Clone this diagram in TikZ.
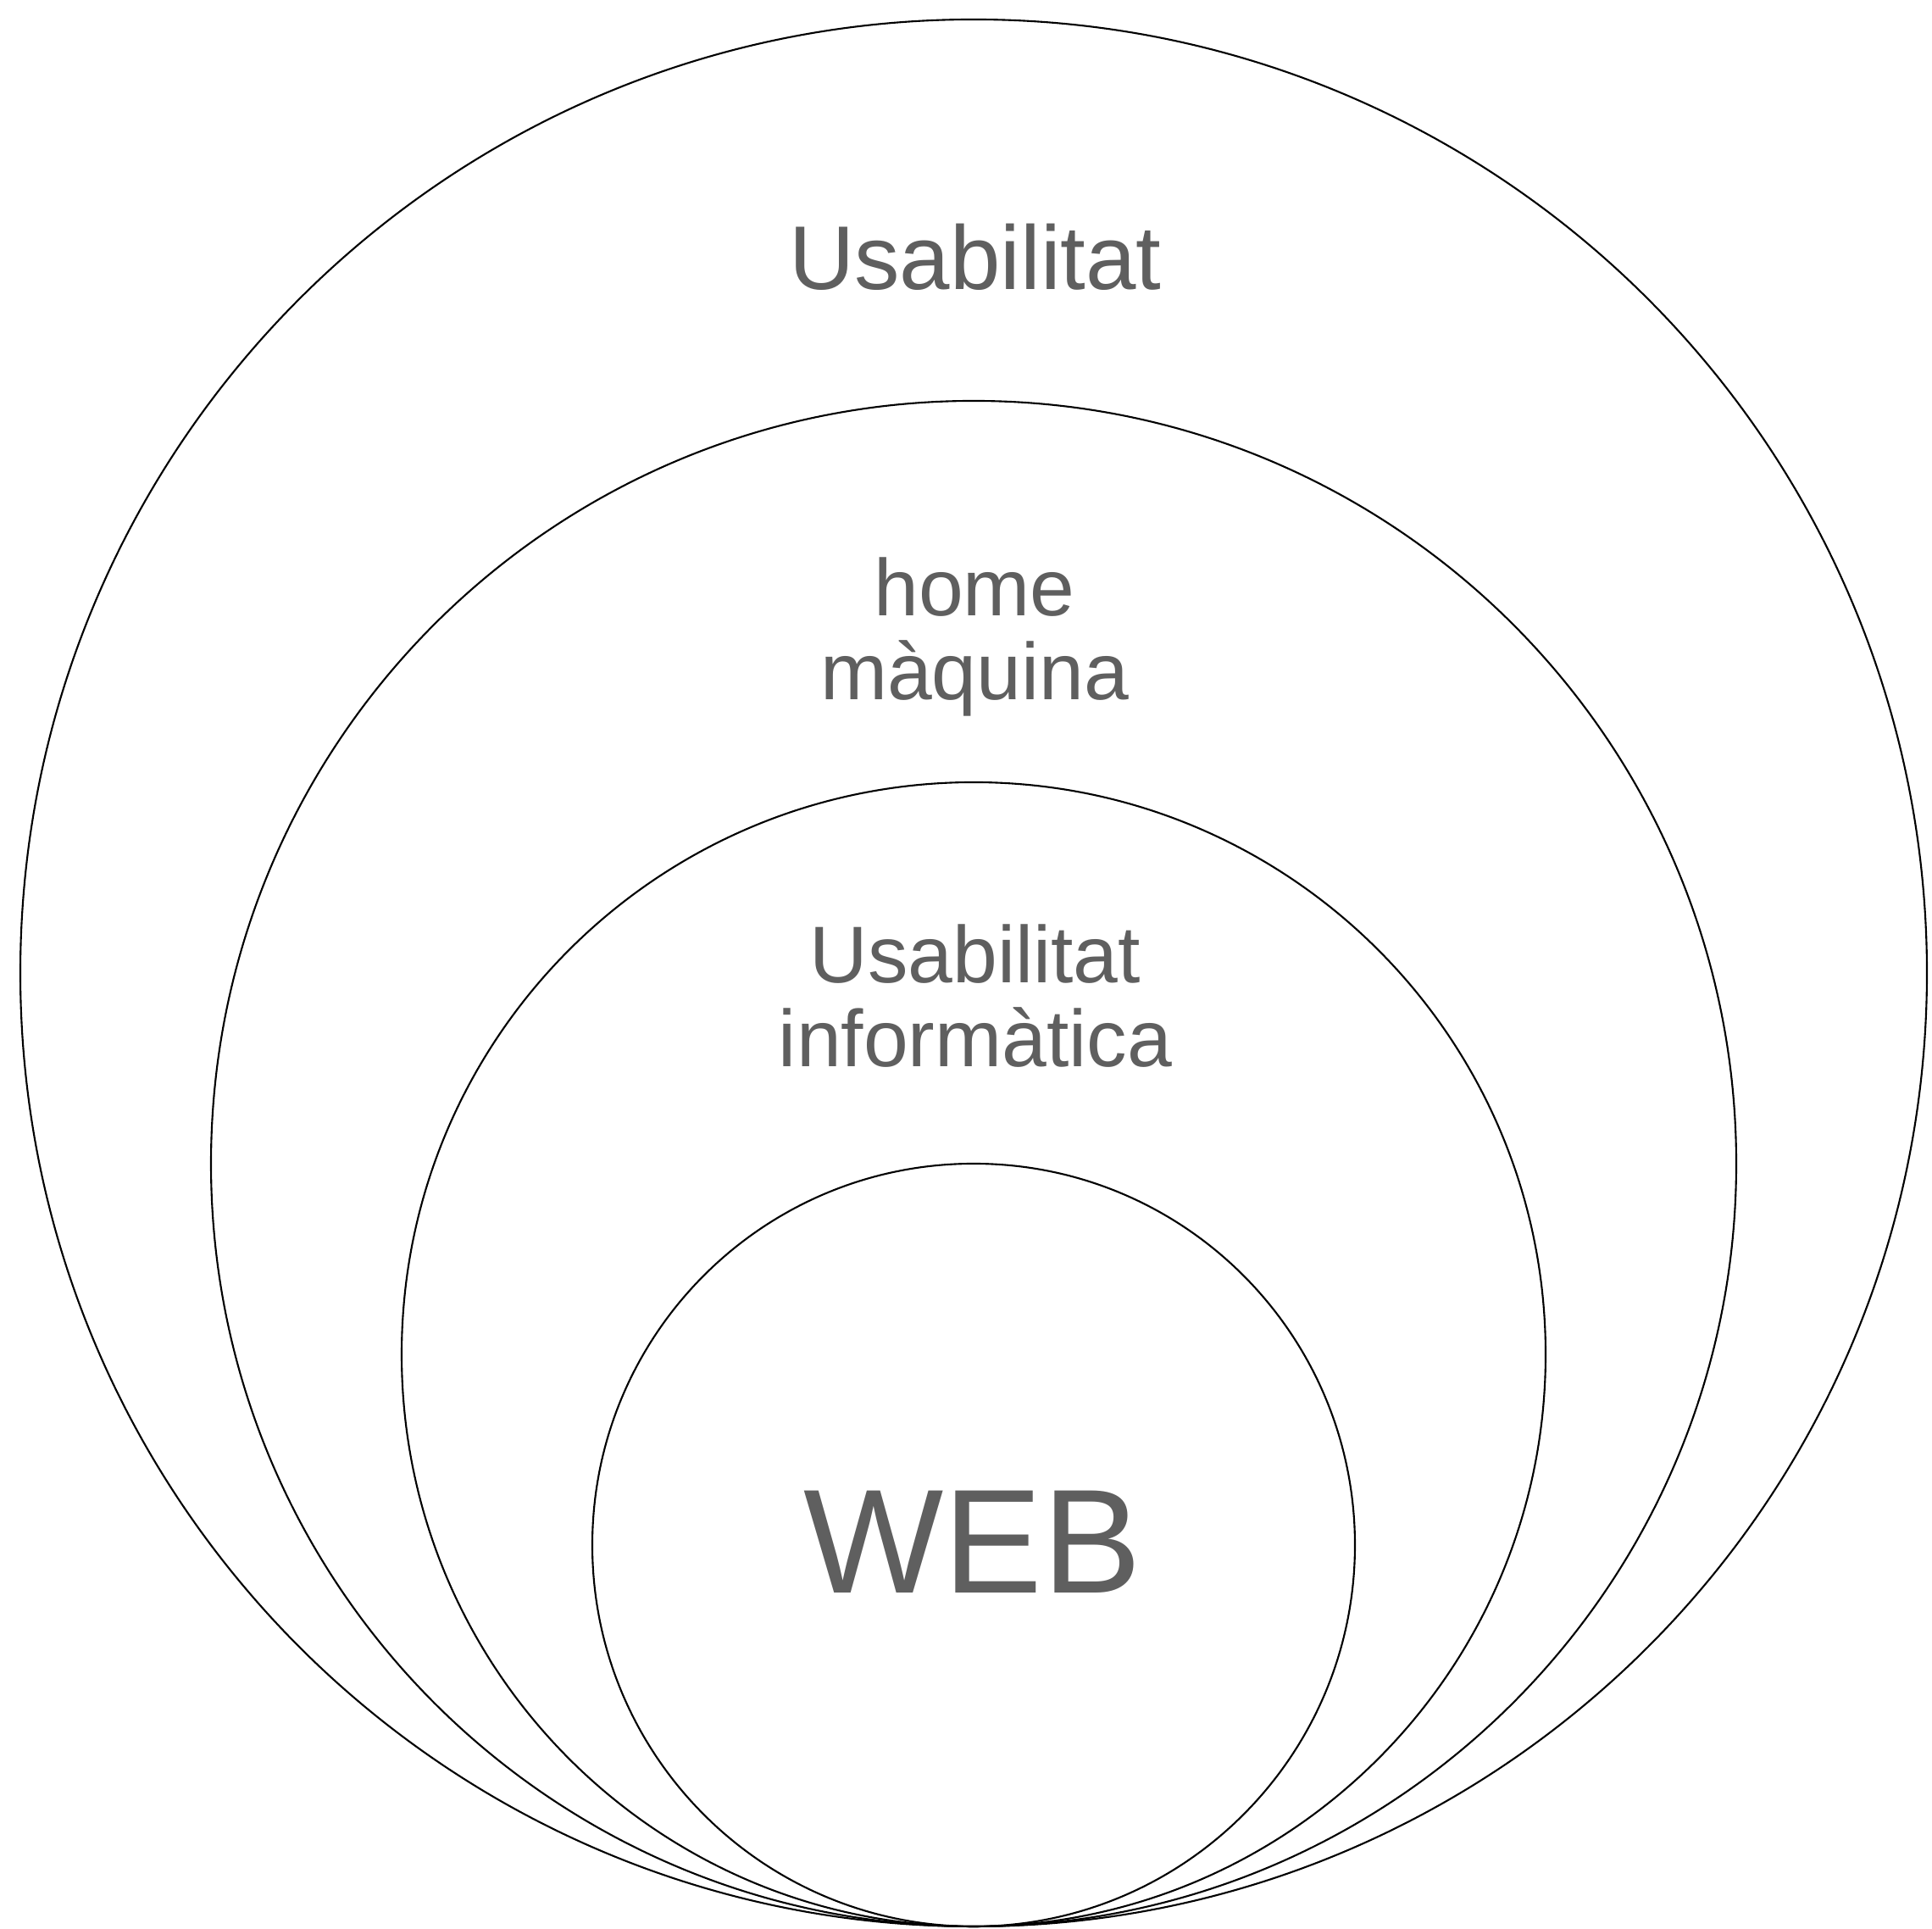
\documentclass[tikz,border=0pt]{standalone}
\usepackage{fontspec}
\setmainfont{Liberation Sans}
\definecolor{labelgray}{RGB}{95,95,95}
\tikzset{
  ring/.style={draw=black, line width=0.6pt},
  lbl/.style={text=labelgray, inner sep=0pt, anchor=base, font=\fontsize{27}{27}\selectfont},
}
\begin{document}
\begin{tikzpicture}[x=1cm,y=1cm]
  \useasboundingbox (0,0) rectangle (22.80,22.76);
  % nested circles, all touching at the bottom
  \draw[ring] (11.49,11.28) circle (11.25);
  \draw[ring] (11.49,9.03) circle (9.00);
  \draw[ring] (11.49,6.78) circle (6.75);
  \draw[ring] (11.49,4.53) circle (4.50);
  % labels
  \node[lbl, font=\fontsize{30.4}{30.4}\selectfont] (usab) at (11.51,19.34) {Usabilitat};
  \node[lbl] (home) at (11.50,15.49) {home};
  \node[lbl] (maquina) at ([yshift=-0.99cm]home.base) {màquina};
  \node[lbl] (usabinf) at (11.51,11.16) {Usabilitat};
  \node[lbl] (informatica) at ([yshift=-0.99cm]usabinf.base) {informàtica};
  \node[lbl, font=\fontsize{49.8}{49.8}\selectfont] (web) at (11.48,3.96) {WEB};
\end{tikzpicture}
\end{document}
